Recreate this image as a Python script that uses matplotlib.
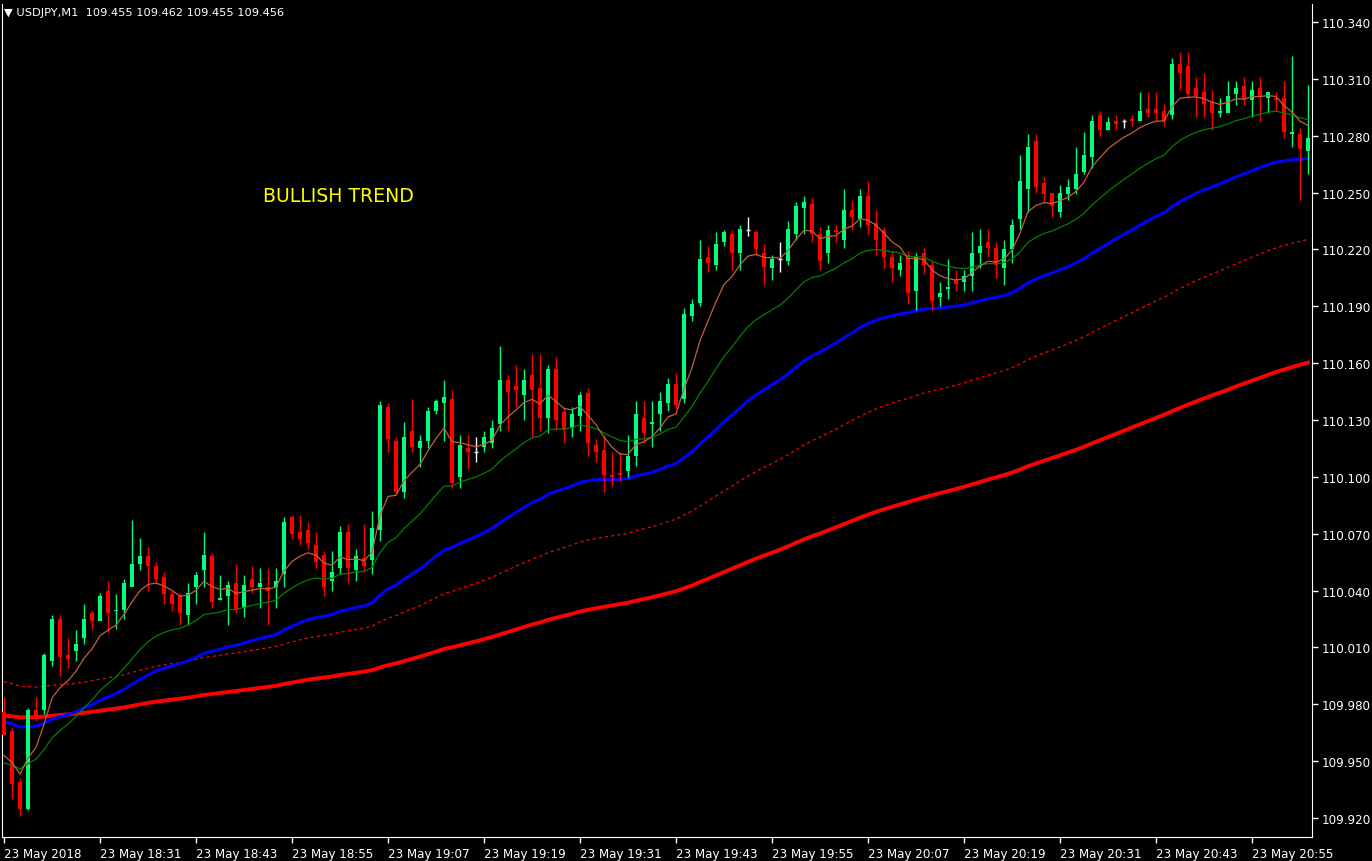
import matplotlib
matplotlib.use("Agg")
import matplotlib.pyplot as plt
import numpy as np

# OHLC per 1-minute bar (USDJPY, 23 May 2018, from 18:19)
opens = [109.976,109.966,109.939,109.925,109.977,109.977,110.003,110.025,110.006,110.008,
         110.015,110.028,110.024,110.040,110.029,110.030,110.042,110.054,110.058,110.053,
         110.047,110.038,110.037,110.027,110.042,110.051,110.058,110.035,110.037,110.044,
         110.031,110.046,110.042,110.042,110.042,110.049,110.079,110.071,110.072,110.064,
         110.059,110.045,110.052,110.071,110.051,110.057,110.056,110.072,110.137,110.119,
         110.092,110.124,110.115,110.119,110.135,110.139,110.141,110.100,110.115,110.113,
         110.116,110.118,110.128,110.151,110.148,110.143,110.154,110.147,110.131,110.157,
         110.134,110.126,110.132,110.144,110.117,110.114,110.101,110.102,110.103,110.111,
         110.131,110.128,110.133,110.139,110.149,110.141,110.185,110.192,110.216,110.212,
         110.224,110.228,110.218,110.230,110.229,110.218,110.210,110.215,110.214,110.228,
         110.242,110.244,110.228,110.218,110.230,110.225,110.241,110.236,110.248,110.234,
         110.230,110.216,110.209,110.217,110.198,110.218,110.212,110.195,110.199,110.204,
         110.203,110.206,110.218,110.224,110.221,110.210,110.220,110.236,110.252,110.277,
         110.255,110.250,110.240,110.249,110.252,110.261,110.269,110.291,110.283,110.288,
         110.288,110.289,110.288,110.294,110.294,110.293,110.291,110.318,110.317,110.305,
         110.303,110.298,110.292,110.292,110.302,110.306,110.299,110.305,110.300,110.300,
         110.300,110.281,110.281,110.272]
closes = [109.964,109.938,109.925,109.977,109.974,110.006,110.025,110.005,110.004,110.012,
          110.025,110.024,110.037,110.028,110.030,110.044,110.054,110.058,110.053,110.046,
          110.038,110.033,110.028,110.039,110.048,110.059,110.034,110.036,110.043,110.030,
          110.043,110.042,110.044,110.040,110.045,110.076,110.070,110.067,110.065,110.055,
          110.042,110.050,110.071,110.052,110.058,110.053,110.073,110.138,110.120,110.092,
          110.121,110.116,110.119,110.135,110.140,110.142,110.097,110.117,110.113,110.113,
          110.121,110.126,110.151,110.145,110.146,110.151,110.146,110.131,110.157,110.130,
          110.125,110.133,110.143,110.118,110.113,110.101,110.100,110.101,110.111,110.133,
          110.123,110.129,110.140,110.149,110.138,110.186,110.191,110.215,110.213,110.223,
          110.229,110.218,110.231,110.230,110.220,110.211,110.215,110.215,110.231,110.243,
          110.245,110.228,110.214,110.230,110.229,110.241,110.237,110.248,110.233,110.225,
          110.216,110.210,110.213,110.197,110.216,110.212,110.193,110.197,110.200,110.202,
          110.206,110.218,110.222,110.221,110.212,110.220,110.233,110.256,110.274,110.253,
          110.249,110.243,110.250,110.253,110.260,110.270,110.288,110.283,110.287,110.286,
          110.288,110.288,110.293,110.292,110.292,110.288,110.318,110.313,110.302,110.301,
          110.297,110.292,110.293,110.301,110.305,110.299,110.304,110.301,110.303,110.299,
          110.282,110.282,110.273,110.279]
highs = [109.984,109.968,109.941,109.978,109.984,110.007,110.027,110.027,110.015,110.019,
         110.033,110.030,110.039,110.045,110.038,110.046,110.077,110.068,110.063,110.055,
         110.050,110.040,110.039,110.044,110.050,110.071,110.060,110.048,110.045,110.054,
         110.048,110.053,110.052,110.052,110.052,110.079,110.080,110.080,110.076,110.071,
         110.061,110.061,110.074,110.075,110.062,110.075,110.082,110.140,110.139,110.121,
         110.129,110.141,110.122,110.137,110.141,110.151,110.146,110.122,110.122,110.121,
         110.124,110.130,110.169,110.154,110.159,110.157,110.165,110.165,110.159,110.163,
         110.137,110.137,110.145,110.147,110.120,110.122,110.113,110.113,110.122,110.140,
         110.140,110.140,110.145,110.152,110.155,110.189,110.194,110.225,110.222,110.229,
         110.230,110.230,110.233,110.237,110.230,110.223,110.217,110.224,110.235,110.245,
         110.248,110.247,110.232,110.233,110.233,110.252,110.246,110.252,110.256,110.241,
         110.232,110.219,110.217,110.219,110.218,110.221,110.214,110.203,110.215,110.209,
         110.209,110.229,110.231,110.231,110.224,110.225,110.236,110.270,110.281,110.281,
         110.258,110.249,110.254,110.257,110.274,110.282,110.291,110.293,110.290,110.291,
         110.289,110.291,110.303,110.303,110.303,110.297,110.321,110.324,110.324,110.311,
         110.313,110.304,110.300,110.309,110.309,110.311,110.309,110.311,110.303,110.303,
         110.309,110.322,110.284,110.307]
lows = [109.974,109.930,109.921,109.924,109.971,109.975,110.000,109.995,109.999,110.003,
        110.012,110.020,110.027,110.018,110.020,110.025,110.048,110.051,110.040,110.044,
        110.033,110.029,110.022,110.022,110.033,110.042,110.031,110.035,110.022,110.028,
        110.026,110.039,110.031,110.022,110.031,110.042,110.067,110.064,110.062,110.052,
        110.037,110.040,110.049,110.044,110.045,110.050,110.049,110.066,110.113,110.091,
        110.089,110.113,110.105,110.115,110.133,110.119,110.094,110.094,110.104,110.108,
        110.113,110.115,110.124,110.124,110.137,110.130,110.121,110.124,110.123,110.125,
        110.118,110.121,110.124,110.111,110.108,110.092,110.095,110.098,110.100,110.106,
        110.118,110.116,110.124,110.135,110.136,110.139,110.182,110.190,110.208,110.209,
        110.222,110.209,110.209,110.227,110.217,110.201,110.204,110.208,110.212,110.225,
        110.228,110.224,110.209,110.213,110.224,110.221,110.230,110.232,110.228,110.217,
        110.210,110.203,110.206,110.191,110.188,110.207,110.188,110.190,110.194,110.198,
        110.198,110.198,110.210,110.216,110.205,110.201,110.213,110.231,110.240,110.250,
        110.245,110.237,110.237,110.246,110.249,110.260,110.263,110.280,110.283,110.283,
        110.284,110.285,110.293,110.290,110.288,110.285,110.289,110.304,110.300,110.290,
        110.290,110.283,110.290,110.296,110.296,110.296,110.290,110.287,110.292,110.293,
        110.279,110.274,110.246,110.260]

# moving averages: (period, seed value at first bar, color, width, style)
ma_periods = [7, 21, 50, 100, 195]
ma_seeds = [109.953, 109.949, 109.971, 109.992, 109.974]
ma_colors = ["#C0613A", "#008000", "#0000FF", "#FF0000", "#FF0000"]
ma_widths = [0.9, 0.9, 2.2, 0.9, 2.8]
ma_styles = ["-", "-", "-", (0, (2.5, 2.5)), "-"]

ytick_vals = [109.920, 109.950, 109.980, 110.010, 110.040, 110.070, 110.100, 110.130,
              110.160, 110.190, 110.220, 110.250, 110.280, 110.310, 110.340]
xtick_labels = ["23 May 2018", "23 May 18:31", "23 May 18:43", "23 May 18:55", "23 May 19:07",
                "23 May 19:19", "23 May 19:31", "23 May 19:43", "23 May 19:55", "23 May 20:07",
                "23 May 20:19", "23 May 20:31", "23 May 20:43", "23 May 20:55"]

n = len(closes)
idx = np.arange(n)
o = np.array(opens); c = np.array(closes); h = np.array(highs); l = np.array(lows)

fig = plt.figure(figsize=(13.72, 8.62), dpi=100, facecolor="black")
ax = fig.add_axes([2/1372, 24/862, 1310/1372, 833/862], facecolor="black")

def ema(vals, period, seed):
    a = 2.0 / (period + 1)
    out = [seed]
    for v in vals[1:]:
        out.append(out[-1] + a * (v - out[-1]))
    return np.array(out)

for k in [4, 3, 2]:
    ax.plot(idx, ema(c, ma_periods[k], ma_seeds[k]), color=ma_colors[k],
            lw=ma_widths[k], ls=ma_styles[k], zorder=2)

green = "#00FF7F"
for i in idx:
    if c[i] > o[i]:
        col = green
    elif c[i] < o[i]:
        col = "#FF0000"
    else:
        col = "white"
    ax.vlines(i, l[i], h[i], color=col, lw=1, zorder=3)
    if c[i] == o[i]:
        ax.hlines(c[i], i - 0.3, i + 0.3, color=col, lw=1, zorder=3)
    else:
        ax.bar(i, abs(c[i] - o[i]), bottom=min(o[i], c[i]), width=0.62,
               color=col, linewidth=0, zorder=3)

for k in [1, 0]:
    ax.plot(idx, ema(c, ma_periods[k], ma_seeds[k]), color=ma_colors[k],
            lw=ma_widths[k], ls=ma_styles[k], zorder=4)

ax.set_xlim(-0.25, 163.5)
ax.set_ylim(109.910, 110.3495)
ax.yaxis.tick_right()
ax.set_yticks(ytick_vals)
ax.set_yticklabels([f"{v:.3f}" for v in ytick_vals])
ax.set_xticks(idx[::12][:len(xtick_labels)])
ax.set_xticklabels(xtick_labels, ha="left")
ax.tick_params(colors="white", labelsize=8.6, length=4, width=1, direction="out", pad=3)
ax.spines["top"].set_visible(False)
for s in ["left", "right", "bottom"]:
    ax.spines[s].set_color("white")

fig.text(4/1372, 1 - 13/862, "▼ USDJPY,M1  109.455 109.462 109.455 109.456",
         color="white", fontsize=8.2, va="center", ha="left")
fig.text(263/1372, 1 - 196/862, "BULLISH TREND", color="#FFFF00", fontsize=13.6,
         va="center", ha="left")

fig.savefig("out.png", dpi=100, facecolor="black")
